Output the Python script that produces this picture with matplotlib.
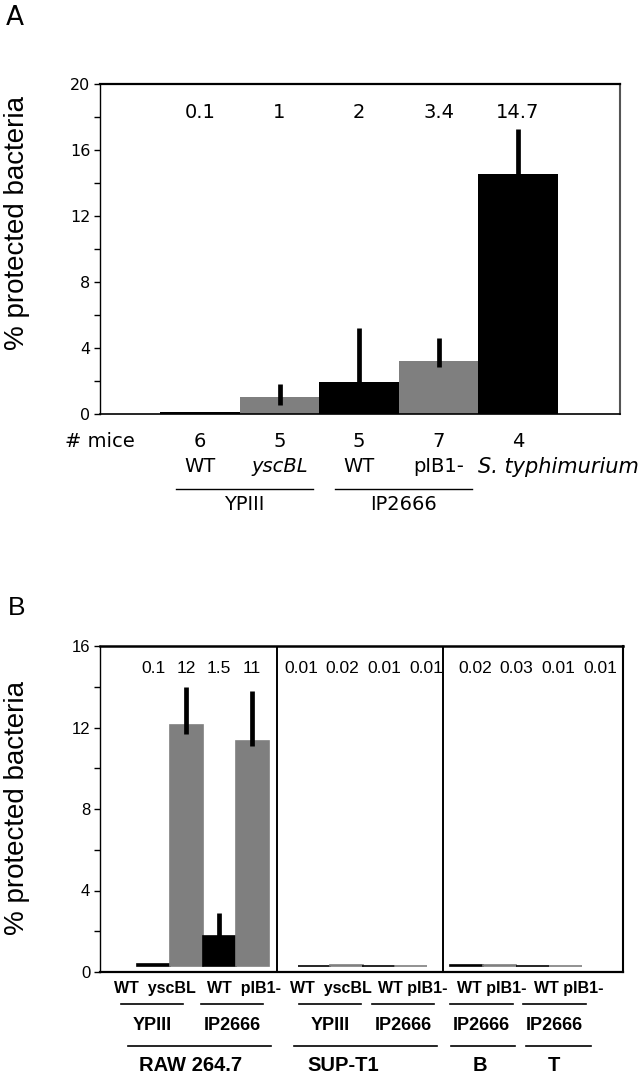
import numpy as np
import matplotlib
matplotlib.use("Agg")
import matplotlib.pyplot as plt
from matplotlib import transforms

plt.rcParams['font.family'] = 'DejaVu Sans'

# Panel A: in vivo, % protected bacteria per strain
a_strains = ["WT", "yscBL", "WT", "pIB1-", "S. typhimurium"]
a_groups = ["YPIII", "IP2666"]
a_values = [0.12, 1.06, 1.94, 3.2, 14.55]
a_err_lo = [0.0, 0.5, 0.9, 0.35, 1.0]
a_err_hi = [0.0, 0.74, 3.26, 1.4, 2.7]
a_labels = ["0.1", "1", "2", "3.4", "14.7"]
a_mice = [6, 5, 5, 7, 4]

# Panel B: cell lines (heights above the bar base)
b_cells = ["RAW 264.7", "SUP-T1", "B", "T"]
b_cell_sizes = [4, 4, 2, 2]
b_groups = ["YPIII", "IP2666", "YPIII", "IP2666", "IP2666", "IP2666"]
b_strains = ["WT", "yscBL", "WT", "pIB1-", "WT", "yscBL", "WT", "pIB1-",
             "WT", "pIB1-", "WT", "pIB1-"]
b_values = [0.1, 11.8, 1.45, 11.05, 0.01, 0.02, 0.01, 0.01, 0.02, 0.03, 0.01, 0.01]
b_err_lo = [0, 0.4, 0.5, 0.25, 0, 0, 0, 0, 0, 0, 0, 0]
b_err_hi = [0, 1.9, 1.15, 2.45, 0, 0, 0, 0, 0, 0, 0, 0]
b_labels = ["0.1", "12", "1.5", "11", "0.01", "0.02", "0.01", "0.01",
            "0.02", "0.03", "0.01", "0.01"]

GRAY = "#7f7f7f"
W, H = 644, 1072
LIB = 'Liberation Sans'

# hand layout tweaks for panel B label rows (in bar-slot units)
pair_sep = ["  ", "  ", "  ", " ", " ", " "]
pair_text_shift = [-0.44, 0.27, 0.0, 0.55, 0.26, 0.61]
pair_line_shift = [-0.53, -0.11, -0.02, 0.25, -0.05, 0.17]
cell_line_shift = [-0.09, 0.08, 0.0, 0.28]
cell_text_shift = [-0.35, -0.6, -0.1, 0.15]
dividers = [3.76, 8.8]


def px_axes(l, t, r, b):
    return [l / W, 1 - b / H, (r - l) / W, (b - t) / H]


fig = plt.figure(figsize=(W / 100, H / 100), dpi=100)

# ---------------- Panel A ----------------
ax = fig.add_axes(px_axes(100, 84, 620, 414))
xa = np.arange(len(a_values))
cols = ["black" if i % 2 == 0 else GRAY for i in range(len(a_values))]
ax.bar(xa, a_values, width=1.0, color=cols, zorder=2)
lo = np.array(a_err_lo); hi = np.array(a_err_hi)
m = hi > 0
ax.errorbar(xa[m], np.array(a_values)[m], yerr=[lo[m], hi[m]], fmt='none',
            ecolor='black', elinewidth=3.4, capsize=0, zorder=3)
for x, t in zip(xa, a_labels):
    ax.text(x, 18.3, t, ha='center', va='center', fontsize=14)

ax.set_xlim(-1.258, 5.283)
ax.set_ylim(0, 20)
ax.set_yticks(np.arange(0, 21, 4))
ax.set_yticks(np.arange(2, 20, 4), minor=True)
ax.set_xticks([])
ax.tick_params(axis='y', which='both', direction='out', length=4, width=1,
               labelsize=11.5, pad=3)
ax.spines['left'].set_linewidth(1.0)
ax.spines['bottom'].set_linewidth(1.2)
ax.spines['top'].set_linewidth(1.6)
ax.spines['right'].set_linewidth(1.5)
ax.spines['right'].set_color('#555555')

tr = transforms.blended_transform_factory(ax.transData, ax.transAxes)
ah = 330.0
ax.text(-1.258 - 35 / 79.5, -27.5 / ah, "# mice", transform=tr, ha='left',
        va='center', fontsize=14)
for x, n in zip(xa, a_mice):
    ax.text(x, -27.5 / ah, str(n), transform=tr, ha='center', va='center', fontsize=14)
for x, s in zip(xa[:4], a_strains[:4]):
    ax.text(x, -53 / ah, s, transform=tr, ha='center', va='center', fontsize=14,
            style='italic' if s == "yscBL" else 'normal')
ax.text(xa[4] - 0.5, -53 / ah, a_strains[4], transform=tr, ha='left', va='center',
        fontsize=15, style='italic')
for g, name in enumerate(a_groups):
    x0, x1 = xa[2 * g] - 0.3, xa[2 * g + 1] + 0.42
    ax.plot([x0, x1], [-75 / ah, -75 / ah], color='black', lw=1.0,
            transform=tr, clip_on=False)
    ax.text((x0 + x1) / 2, -91 / ah, name, transform=tr, ha='center', va='center',
            fontsize=14)

fig.text(6 / W, 1 - 5 / H, "A", ha='left', va='top', fontsize=19)
fig.text(17 / W, 1 - 223 / H, "% protected bacteria", rotation=90, ha='center',
         va='center', fontsize=20, family=LIB)

# ---------------- Panel B ----------------
bx = fig.add_axes(px_axes(100, 646, 623, 972))
starts = [0.0, 4.9, 9.5, 11.5]
steps = [1.0, 0.97, 1.0, 1.0]
xb = np.concatenate([s + st * np.arange(n) for s, st, n in zip(starts, steps, b_cell_sizes)])
base = 0.3
colsb = ["black" if i % 2 == 0 else GRAY for i in range(len(b_values))]
bx.bar(xb, b_values, bottom=base, width=1.0, color=colsb, edgecolor=colsb,
       linewidth=1.2, zorder=2)
lo = np.array(b_err_lo); hi = np.array(b_err_hi)
m = hi > 0
bx.errorbar(xb[m], np.array(b_values)[m] + base, yerr=[lo[m], hi[m]], fmt='none',
            ecolor='black', elinewidth=3.4, capsize=0, zorder=3)

# value labels: RAW on bars, the others spread a little wider
lab_x = list(xb[:4]) + list(4.48 + 1.265 * np.arange(4)) + list(9.75 + 1.27 * np.arange(4))
for x, t in zip(lab_x, b_labels):
    bx.text(x, 14.9, t, ha='center', va='center', fontsize=12.5, family=LIB)

for d in dividers:
    bx.axvline(d, color='black', lw=1.4, zorder=4)

bx.set_xlim(-1.606, 14.24)
bx.set_ylim(0, 16)
bx.set_yticks(np.arange(0, 17, 4))
bx.set_yticks(np.arange(2, 16, 4), minor=True)
bx.set_xticks([])
bx.tick_params(axis='y', which='both', direction='out', length=4, width=1,
               labelsize=12, pad=3)
for lab in bx.get_yticklabels():
    lab.set_family(LIB)
bx.spines['left'].set_linewidth(1.0)
bx.spines['bottom'].set_linewidth(1.6)
bx.spines['top'].set_linewidth(1.8)
bx.spines['right'].set_linewidth(1.5)

trb = transforms.blended_transform_factory(bx.transData, bx.transAxes)
bh = 326.0
for g, name in enumerate(b_groups):
    i0 = 2 * g
    c = (xb[i0] + xb[i0 + 1]) / 2
    pair = b_strains[i0] + pair_sep[g] + b_strains[i0 + 1]
    bx.text(c + pair_text_shift[g], -17 / bh, pair, transform=trb, ha='center',
            va='center', fontsize=11.5, fontweight='bold', family=LIB)
    cl = c + pair_line_shift[g]
    bx.plot([cl - 0.95, cl + 0.95], [-32 / bh, -32 / bh], color='black', lw=1.2,
            transform=trb, clip_on=False)
    bx.text(cl, -53 / bh, name, transform=trb, ha='center', va='center',
            fontsize=13, fontweight='bold', family=LIB)

i0 = 0
for k, (name, n) in enumerate(zip(b_cells, b_cell_sizes)):
    c = (xb[i0] + xb[i0 + n - 1]) / 2
    half = n / 2 + (0.17 if n > 2 else -0.02)
    cl = c + cell_line_shift[k]
    bx.plot([cl - half, cl + half], [-74 / bh, -74 / bh], color='black', lw=1.2,
            transform=trb, clip_on=False)
    bx.text(c + cell_text_shift[k], -99 / bh, name, transform=trb, ha='center',
            va='baseline', fontsize=14.5, fontweight='bold', family=LIB)
    i0 += n

fig.text(8 / W, 1 - 596 / H, "B", ha='left', va='top', fontsize=19, family=LIB)
fig.text(17 / W, 1 - 808 / H, "% protected bacteria", rotation=90, ha='center',
         va='center', fontsize=20, family=LIB)

fig.savefig("out.png", dpi=100)
